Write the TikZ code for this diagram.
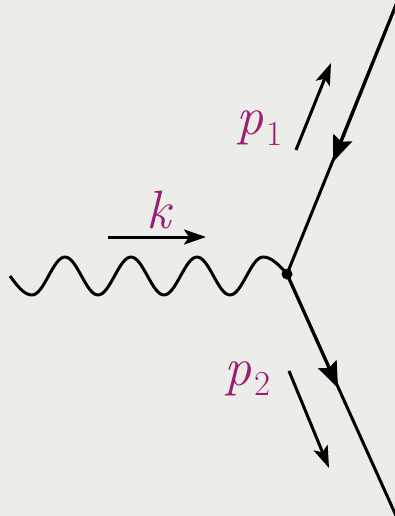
\documentclass[tikz,border=0pt]{standalone}
\usepackage{fontspec}
\usetikzlibrary{arrows.meta}
\definecolor{bgc}{RGB}{236,236,232}
\definecolor{lab}{RGB}{155,30,115}
\tikzset{
  fline/.style={line width=3pt},
  ftip/.style={-{Stealth[length=26pt,width=20pt,inset=4pt]}},
  mom/.style={line width=3pt,-{Stealth[length=22pt,width=15pt,inset=5pt]}},
  lbl/.style={text=lab,inner sep=0pt,anchor=base west,font=\fontsize{54}{60}\selectfont\itshape},
}
\newcommand{\subnum}[1]{\kern3pt\raisebox{-10pt}{\upshape\fontsize{35}{35}\selectfont #1}}
\begin{document}
\begin{tikzpicture}[x=1pt,y=-1pt]
\fill[bgc] (0,0) rectangle (395,516);
\useasboundingbox (0,0) rectangle (395,516);
% coordinates
\coordinate (v) at (287,274);
\coordinate (top) at (402,-10);
\coordinate (t1) at (333,162);
\coordinate (bot) at (398,520);
\coordinate (t2) at (338,388);
\coordinate (w0) at (10,276);
% fermion lines
\draw[fline] (top) -- (v) -- (bot);
\draw[fline,ftip] (top) -- (t1);
\draw[fline,ftip] (v) -- (t2);
% photon
\draw[fline,line join=round] (w0) sin (32,295) cos (48.5,276) sin (65,257) cos (81.5,276)
  sin (98,295) cos (114.5,276) sin (131,257) cos (147.5,276)
  sin (164,295) cos (180.5,276) sin (197,257) cos (213.5,276)
  sin (230,295) cos (246.5,276) sin (263,257) cos (v);
\fill (v) circle (5.5);
% momentum arrows
\coordinate (k0) at (108,237); \coordinate (k1) at (206,237);
\coordinate (a0) at (296,150); \coordinate (a1) at (331,63);
\coordinate (b0) at (289,371); \coordinate (b1) at (329,468);
\draw[mom] (k0) -- (k1);
\draw[mom] (a0) -- (a1);
\draw[mom] (b0) -- (b1);
% labels
\node[lbl] (k) at (146,228) {k};
\node[lbl] (p1) at (236,135) {p\subnum{1}};
\node[lbl] (p2) at (224,385) {p\subnum{2}};
\end{tikzpicture}
\end{document}
